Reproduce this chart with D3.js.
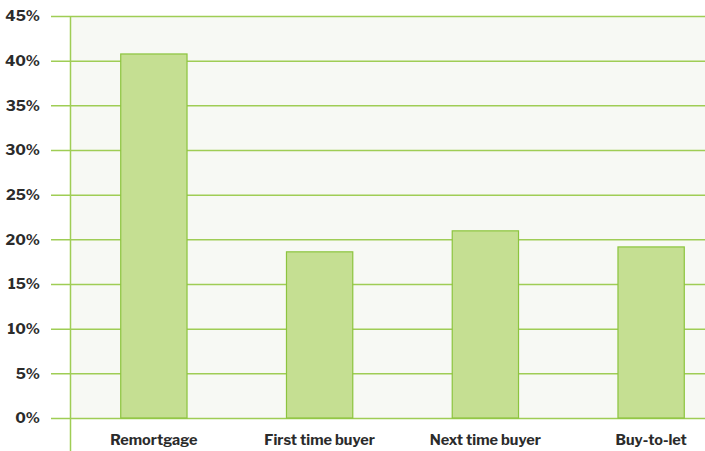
<!DOCTYPE html>
<html>
<head>
<meta charset="utf-8">
<script src="https://cdn.jsdelivr.net/npm/d3@7"></script>
<style>
  body { margin: 0; background: #fff; }
  svg text { font-family: "Libre Franklin", Inter, "Noto Sans", sans-serif; font-weight: 700; fill: #2b2b2b; }
</style>
</head>
<body>
<svg id="chart"></svg>
<script>
// chart data
const categories = ["Remortgage", "First time buyer", "Next time buyer", "Buy-to-let"];
const shares = [40.75, 18.6, 20.95, 19.15];
const yTicks = [0, 5, 10, 15, 20, 25, 30, 35, 40, 45];

function barchart(){
    const width = 705;
    const height = 451;
    const left = 71, top = 16, bottom = 418;

    const svg = d3.select("#chart")
        .attr("width", width)
        .attr("height", height);

    const x = d3.scaleBand()
        .domain(categories)
        .range([left, 734])
        .paddingInner(0.6)
        .paddingOuter(0.3);

    const y = d3.scaleLinear()
        .domain([0, 45])
        .range([bottom, top]);

    // plot background
    svg.append("rect")
        .attr("x", left)
        .attr("y", top)
        .attr("width", width - left)
        .attr("height", bottom - top)
        .attr("fill", "#f7f9f4");

    // gridlines + tick labels
    const yAxis = d3.axisLeft(y)
        .tickValues(yTicks)
        .tickSize(-(width - 51))
        .tickFormat(d => d + "%");
    const gy = svg.append("g")
        .attr("transform", "translate(51,0)")
        .call(yAxis);
    gy.select(".domain").remove();
    gy.selectAll(".tick line")
        .attr("stroke", "#9fcd55")
        .attr("stroke-width", 1.5);
    gy.selectAll(".tick text")
        .attr("x", -11)
        .attr("font-size", 15);

    // vertical axis line
    svg.append("line")
        .attr("x1", 70.5).attr("x2", 70.5)
        .attr("y1", top).attr("y2", height)
        .attr("stroke", "#9fcd55")
        .attr("stroke-width", 1.5);

    // bars
    svg.selectAll(".bar")
        .data(shares)
        .enter().append("rect")
        .attr("class", "bar")
        .attr("x", (d, i) => x(categories[i]))
        .attr("y", d => y(d))
        .attr("width", x.bandwidth())
        .attr("height", d => y(0) - y(d))
        .attr("fill", "#c5df92")
        .attr("stroke", "#8cc43e")
        .attr("stroke-width", 1.2);

    // category labels
    const xAxis = d3.axisBottom(x).tickSize(0);
    const gx = svg.append("g")
        .attr("transform", "translate(0," + bottom + ")")
        .call(xAxis);
    gx.select(".domain").remove();
    gx.selectAll(".tick text")
        .attr("y", 17)
        .attr("font-size", 14.5);
}
barchart();
</script>
</body>
</html>
